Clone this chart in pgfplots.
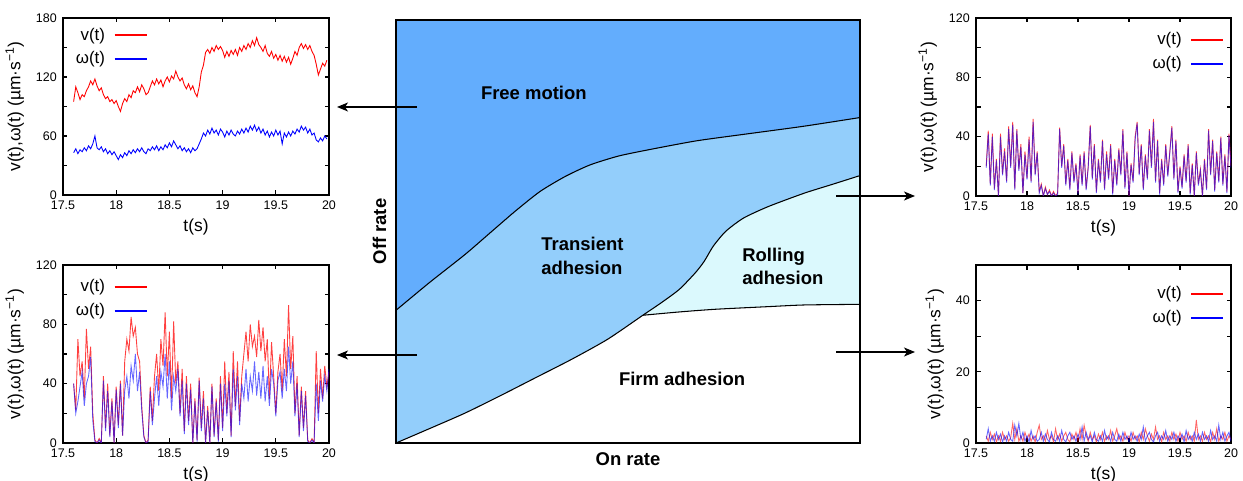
\documentclass[border=0pt]{standalone}
\usepackage{fontspec}
\setmainfont{Liberation Sans}
\usepackage{pgfplots}
\pgfplotsset{compat=1.18}
\usepackage{pgfplotstable}
\usetikzlibrary{arrows.meta}

\definecolor{freeblue}{RGB}{99,173,253}
\definecolor{transblue}{RGB}{147,206,251}
\definecolor{rollblue}{RGB}{219,249,253}

\pgfplotstableread[row sep=\\]{t v w\\
17.60 95 43\\ 17.62 110 47\\ 17.64 104 42\\ 17.66 97 46\\ 17.68 102 44\\ 17.70 100 48\\ 17.72 106 45\\ 17.74 110 50\\ 17.76 116 47\\ 17.78 112 52\\
17.80 118 60\\ 17.82 111 48\\ 17.84 106 46\\ 17.86 109 49\\ 17.88 102 44\\ 17.90 98 47\\ 17.92 100 42\\ 17.94 95 45\\ 17.96 97 41\\ 17.98 93 44\\
18.00 96 40\\ 18.02 90 36\\ 18.04 85 41\\ 18.06 93 38\\ 18.08 98 43\\ 18.10 95 40\\ 18.12 102 45\\ 18.14 99 42\\ 18.16 106 46\\ 18.18 104 43\\
18.20 110 47\\ 18.22 105 44\\ 18.24 112 48\\ 18.26 108 44\\ 18.28 102 42\\ 18.30 104 47\\ 18.32 110 45\\ 18.34 116 49\\ 18.36 112 46\\ 18.38 118 50\\
18.40 113 45\\ 18.42 117 49\\ 18.44 110 46\\ 18.46 116 51\\ 18.48 120 48\\ 18.50 115 53\\ 18.52 121 49\\ 18.54 118 55\\ 18.56 126 51\\ 18.58 120 47\\
18.60 116 50\\ 18.62 119 45\\ 18.64 112 48\\ 18.66 108 44\\ 18.68 113 47\\ 18.70 107 43\\ 18.72 111 48\\ 18.74 104 45\\ 18.76 100 47\\ 18.78 110 52\\
18.80 125 57\\ 18.82 132 63\\ 18.84 145 60\\ 18.86 148 66\\ 18.88 144 62\\ 18.90 150 68\\ 18.92 146 63\\ 18.94 152 66\\ 18.96 148 61\\ 18.98 151 67\\
19.00 147 64\\ 19.02 140 59\\ 19.04 146 65\\ 19.06 141 61\\ 19.08 147 66\\ 19.10 143 62\\ 19.12 148 60\\ 19.14 142 65\\ 19.16 150 62\\ 19.18 146 67\\
19.20 152 63\\ 19.22 148 68\\ 19.24 154 64\\ 19.26 150 70\\ 19.28 157 66\\ 19.30 152 71\\ 19.32 160 65\\ 19.34 153 69\\ 19.36 150 63\\ 19.38 146 67\\
19.40 152 61\\ 19.42 144 65\\ 19.44 141 59\\ 19.46 146 64\\ 19.48 139 60\\ 19.50 143 66\\ 19.52 137 61\\ 19.54 142 65\\ 19.56 136 52\\ 19.58 141 63\\
19.60 135 59\\ 19.62 140 64\\ 19.64 133 60\\ 19.66 139 65\\ 19.68 146 62\\ 19.70 142 67\\ 19.72 150 64\\ 19.74 154 70\\ 19.76 149 66\\ 19.78 153 69\\
19.80 148 63\\ 19.82 152 67\\ 19.84 146 61\\ 19.86 142 63\\ 19.88 133 56\\ 19.90 122 54\\ 19.92 128 58\\ 19.94 134 55\\ 19.96 131 60\\ 19.98 137 57\\
}\freedata

\pgfplotstableread[row sep=\\]{t v w\\
17.60 40 40\\ 17.62 22 20\\ 17.64 70 28\\ 17.66 45 38\\ 17.68 55 48\\ 17.70 30 25\\ 17.72 77 40\\ 17.74 50 45\\ 17.76 65 58\\ 17.78 20 15\\
17.80 2 1\\ 17.82 0 0\\ 17.84 3 2\\ 17.86 0 0\\ 17.88 45 42\\ 17.90 10 8\\ 17.92 40 35\\ 17.94 5 4\\ 17.96 30 28\\ 17.98 0 0\\
18.00 38 36\\ 18.02 12 10\\ 18.04 42 40\\ 18.06 5 5\\ 18.08 55 35\\ 18.10 70 45\\ 18.12 62 30\\ 18.14 85 52\\ 18.16 72 42\\ 18.18 78 60\\
18.20 60 35\\ 18.22 55 48\\ 18.24 25 22\\ 18.26 5 4\\ 18.28 0 0\\ 18.30 2 1\\ 18.32 38 35\\ 18.34 15 12\\ 18.36 45 30\\ 18.38 60 45\\
18.40 35 25\\ 18.42 70 48\\ 18.44 52 38\\ 18.46 88 60\\ 18.48 45 30\\ 18.50 75 55\\ 18.52 30 22\\ 18.54 82 45\\ 18.56 40 35\\ 18.58 55 50\\
18.60 20 18\\ 18.62 50 42\\ 18.64 8 6\\ 18.66 45 40\\ 18.68 15 12\\ 18.70 40 36\\ 18.72 0 0\\ 18.74 30 28\\ 18.76 2 1\\ 18.78 44 42\\
18.80 10 8\\ 18.82 35 30\\ 18.84 0 0\\ 18.86 25 22\\ 18.88 0 0\\ 18.90 40 38\\ 18.92 5 4\\ 18.94 30 28\\ 18.96 2 1\\ 18.98 45 40\\
19.00 10 8\\ 19.02 55 40\\ 19.04 20 18\\ 19.06 48 42\\ 19.08 5 4\\ 19.10 62 50\\ 19.12 25 22\\ 19.14 55 45\\ 19.16 15 12\\ 19.18 45 40\\
19.20 60 30\\ 19.22 75 50\\ 19.24 55 28\\ 19.26 80 45\\ 19.28 65 35\\ 19.30 72 55\\ 19.32 58 32\\ 19.34 83 48\\ 19.36 62 30\\ 19.38 78 52\\
19.40 55 28\\ 19.42 70 45\\ 19.44 30 25\\ 19.46 68 50\\ 19.48 45 40\\ 19.50 20 18\\ 19.52 48 42\\ 19.54 60 48\\ 19.56 35 30\\ 19.58 70 50\\
19.60 45 35\\ 19.62 93 65\\ 19.64 50 40\\ 19.66 72 55\\ 19.68 20 18\\ 19.70 45 40\\ 19.72 5 4\\ 19.74 38 35\\ 19.76 10 8\\ 19.78 35 32\\
19.80 2 1\\ 19.82 0 0\\ 19.84 3 2\\ 19.86 0 0\\ 19.88 62 40\\ 19.90 20 15\\ 19.92 50 42\\ 19.94 30 28\\ 19.96 52 45\\ 19.98 38 35\\ 20.00 48 50\\
}\transdata

\pgfplotstableread[row sep=\\]{t v w\\
17.60 20 19\\ 17.62 44 42\\ 17.64 8 7\\ 17.66 42 40\\ 17.68 5 4\\ 17.70 25 24\\ 17.72 0 0\\ 17.74 42 40\\ 17.76 15 14\\ 17.78 32 30\\
17.80 10 9\\ 17.82 47 45\\ 17.84 20 19\\ 17.86 50 48\\ 17.88 5 4\\ 17.90 45 44\\ 17.92 18 17\\ 17.94 35 33\\ 17.96 2 2\\ 17.98 30 28\\
18.00 12 11\\ 18.02 40 38\\ 18.04 10 9\\ 18.06 52 50\\ 18.08 15 14\\ 18.10 30 29\\ 18.12 3 2\\ 18.14 8 7\\ 18.16 0 0\\ 18.18 6 5\\
18.20 1 1\\ 18.22 4 3\\ 18.24 0 0\\ 18.26 3 2\\ 18.28 0 0\\ 18.30 2 1\\ 18.32 46 45\\ 18.34 20 19\\ 18.36 35 34\\ 18.38 8 7\\
18.40 25 24\\ 18.42 5 4\\ 18.44 30 29\\ 18.46 10 9\\ 18.48 22 21\\ 18.50 2 1\\ 18.52 28 27\\ 18.54 8 7\\ 18.56 30 29\\ 18.58 5 4\\
18.60 20 19\\ 18.62 48 47\\ 18.64 12 11\\ 18.66 35 34\\ 18.68 3 2\\ 18.70 25 24\\ 18.72 10 9\\ 18.74 38 37\\ 18.76 5 4\\ 18.78 30 28\\
18.80 12 11\\ 18.82 35 34\\ 18.84 2 1\\ 18.86 25 24\\ 18.88 8 7\\ 18.90 32 31\\ 18.92 15 14\\ 18.94 45 44\\ 18.96 6 5\\ 18.98 30 29\\
19.00 0 0\\ 19.02 22 21\\ 19.04 10 9\\ 19.06 40 38\\ 19.08 50 49\\ 19.10 15 14\\ 19.12 35 34\\ 19.14 5 4\\ 19.16 28 27\\ 19.18 12 11\\
19.20 45 44\\ 19.22 20 19\\ 19.24 52 50\\ 19.26 10 9\\ 19.28 38 37\\ 19.30 2 1\\ 19.32 25 24\\ 19.34 8 7\\ 19.36 35 34\\ 19.38 14 13\\
19.40 30 29\\ 19.42 47 46\\ 19.44 12 11\\ 19.46 38 37\\ 19.48 3 2\\ 19.50 20 19\\ 19.52 6 5\\ 19.54 28 27\\ 19.56 10 9\\ 19.58 35 34\\
19.60 2 1\\ 19.62 22 21\\ 19.64 0 0\\ 19.66 30 29\\ 19.68 8 7\\ 19.70 18 17\\ 19.72 0 0\\ 19.74 25 24\\ 19.76 5 4\\ 19.78 45 44\\
19.80 15 14\\ 19.82 38 37\\ 19.84 4 3\\ 19.86 30 29\\ 19.88 10 9\\ 19.90 40 39\\ 19.92 8 7\\ 19.94 28 27\\ 19.96 3 2\\ 19.98 42 41\\ 20.00 20 19\\
}\rolldata

\pgfplotstableread[row sep=\\]{t v w\\
17.60 2 1\\ 17.62 0.5 4\\ 17.64 3 0.5\\ 17.66 1 2\\ 17.68 2.5 0.5\\ 17.70 0.3 3\\ 17.72 2 1\\ 17.74 0.5 2.5\\ 17.76 3 0.3\\ 17.78 1 2\\
17.80 2 0.5\\ 17.82 0.5 3\\ 17.84 1.5 1\\ 17.86 5.5 0.5\\ 17.88 1 5\\ 17.90 4 2\\ 17.92 0.5 5.5\\ 17.94 2 1\\ 17.96 0.5 3\\ 17.98 3 0.5\\
18.00 1 2\\ 18.02 2.5 0.3\\ 18.04 0.5 3.5\\ 18.06 2 1\\ 18.08 0.3 2\\ 18.10 3 0.5\\ 18.12 5 1\\ 18.14 1 3\\ 18.16 2 0.5\\ 18.18 0.5 2.5\\
18.20 3.5 1\\ 18.22 1 0.3\\ 18.24 2 3\\ 18.26 0.3 1\\ 18.28 4 0.5\\ 18.30 1 2\\ 18.32 2.5 0.5\\ 18.34 0.5 3.5\\ 18.36 2 1\\ 18.38 3 0.3\\
18.40 1 2\\ 18.42 0.3 3\\ 18.44 2.5 1\\ 18.46 1 2\\ 18.48 3 0.5\\ 18.50 0.5 2.5\\ 18.52 4 1\\ 18.54 1 4.5\\ 18.56 5 0.5\\ 18.58 2 3\\
18.60 0.5 1\\ 18.62 3 2\\ 18.64 1 0.3\\ 18.66 2 3\\ 18.68 0.3 1\\ 18.70 2.5 0.5\\ 18.72 1 2\\ 18.74 3 0.5\\ 18.76 0.5 3.5\\ 18.78 2 1\\
18.80 1 2\\ 18.82 3.5 0.5\\ 18.84 0.5 3\\ 18.86 2 1\\ 18.88 4 0.5\\ 18.90 1 2.5\\ 18.92 2 0.5\\ 18.94 0.5 3\\ 18.96 3 1\\ 18.98 1 2\\
19.00 2 0.3\\ 19.02 0.5 3\\ 19.04 3 1\\ 19.06 1 2\\ 19.08 2 0.5\\ 19.10 0.3 2.5\\ 19.12 3 1\\ 19.14 1 4.5\\ 19.16 4 0.5\\ 19.18 2 2\\
19.20 0.5 3\\ 19.22 2.5 1\\ 19.24 1 0.3\\ 19.26 4.5 2\\ 19.28 1 3\\ 19.30 2 0.5\\ 19.32 0.3 2\\ 19.34 3 1\\ 19.36 1 3.5\\ 19.38 2 0.5\\
19.40 0.5 2\\ 19.42 3 1\\ 19.44 1 3\\ 19.46 2.5 0.5\\ 19.48 0.5 2\\ 19.50 3 1\\ 19.52 1 2.5\\ 19.54 2 0.3\\ 19.56 0.5 3.5\\ 19.58 3 1\\
19.60 1 2\\ 19.62 2 0.5\\ 19.64 0.5 3\\ 19.66 6.5 1\\ 19.68 1 2.5\\ 19.70 2 0.5\\ 19.72 0.5 3\\ 19.74 3 1\\ 19.76 1 2\\ 19.78 2 0.5\\
19.80 0.3 3.5\\ 19.82 3 1\\ 19.84 1 2\\ 19.86 4 0.5\\ 19.88 0.5 5\\ 19.90 2 1\\ 19.92 1 3\\ 19.94 3 0.5\\ 19.96 0.5 2\\ 19.98 2 3\\ 20.00 1 0.5\\
}\firmdata

\pgfplotsset{
 ts/.style={scale only axis, width=5.32cm, xmin=17.5, xmax=20,
  xtick={17.5,18,18.5,19,19.5,20},
  tick align=inside, major tick length=0.09cm, minor tick length=0.09cm,
  axis line style={line width=0.8pt},
  every tick/.style={line width=0.6pt, black},
  /pgf/number format/assume math mode=true,
  tick label style={font=\fontsize{7.1}{8}\selectfont},
  label style={font=\fontsize{9.9}{11}\selectfont},
  xlabel={t(s)}, ylabel={v(t),ω(t) (µm·s\textsuperscript{−1})},
  xlabel style={yshift=2pt},
  legend plot pos=right, legend cell align=right,
  legend style={draw=none, fill=none, font=\fontsize{9.6}{11}\selectfont,
    inner sep=0pt, row sep=1pt, /tikz/column sep=0.1cm},
  legend image code/.code={\draw[#1, line width=1.2pt, opacity=1] (0cm,0cm) -- (0.64cm,0cm);},
 },
 vl/.style={red, line width=0.5pt},
 wl/.style={blue, line width=0.5pt},
}

\begin{document}
\begin{tikzpicture}
\path[use as bounding box] (0,0) rectangle (24.86cm,9.62cm);

% top left: free motion
\begin{axis}[ts, at={(1.26cm,5.72cm)}, height=3.54cm, ymin=0, ymax=180,
  ytick={0,60,120,180}, minor ytick={30,90,150},
  legend style={at={(0.034,0.966)}, anchor=north west}]
\addplot[vl] table[x=t,y=v]{\freedata}; \addlegendentry{v(t)}
\addplot[wl] table[x=t,y=w]{\freedata}; \addlegendentry{ω(t)}
\end{axis}

% bottom left: transient adhesion
\begin{axis}[ts, at={(1.26cm,0.76cm)}, height=3.56cm, ymin=0, ymax=120,
  ytick={0,40,80,120}, minor ytick={20,60,100},
  legend style={at={(0.034,0.94)}, anchor=north west}]
\addplot[vl, opacity=0.75] table[x=t,y=v]{\transdata}; \addlegendentry{v(t)}
\addplot[wl, opacity=0.6] table[x=t,y=w]{\transdata}; \addlegendentry{ω(t)}
\end{axis}

% top right: rolling adhesion
\begin{axis}[ts, width=5.1cm, at={(19.52cm,5.70cm)}, height=3.56cm, ymin=0, ymax=120,
  ytick={0,40,80,120}, minor ytick={20,60,100},
  legend style={at={(0.975,0.94)}, anchor=north east}]
\addplot[vl, opacity=0.75] table[x=t,y=v]{\rolldata}; \addlegendentry{v(t)}
\addplot[wl, opacity=0.6] table[x=t,y=w]{\rolldata}; \addlegendentry{ω(t)}
\end{axis}

% bottom right: firm adhesion
\begin{axis}[ts, width=5.1cm, at={(19.52cm,0.76cm)}, height=3.56cm, ymin=0, ymax=50,
  ytick={0,20,40}, minor ytick={10,30},
  legend style={at={(0.975,0.90)}, anchor=north east}]
\addplot[vl, opacity=0.6] table[x=t,y=v]{\firmdata}; \addlegendentry{v(t)}
\addplot[wl, opacity=0.6] table[x=t,y=w]{\firmdata}; \addlegendentry{ω(t)}
\end{axis}

% central phase diagram
\begin{axis}[scale only axis, at={(7.92cm,0.76cm)}, width=9.28cm, height=8.46cm,
  xmin=0, xmax=1, ymin=0, ymax=1, xtick=\empty, ytick=\empty,
  axis on top, axis line style={line width=0.8pt},
  axis background/.style={fill=freeblue},
  label style={font=\fontsize{10.5}{12}\selectfont\bfseries},
  xlabel={On rate}, ylabel={Off rate},
  xlabel style={yshift=-2pt}, ylabel style={yshift=2pt}]
\addplot[fill=transblue, draw=none] coordinates {
 (0,0.3137)(0.0716,0.3788)(0.1486,0.4455)(0.2025,0.4965)(0.2564,0.5475)(0.3103,0.5945)
 (0.3642,0.6298)(0.4180,0.6573)(0.4796,0.6784)(0.5485,0.6941)(0.6486,0.7145)(0.7640,0.7318)
 (0.8799,0.7490)(1,0.7694)(1,0.6322)(0.9415,0.6118)(0.8799,0.5906)(0.8029,0.5592)(0.7490,0.5318)
 (0.7106,0.5004)(0.6836,0.4651)(0.6644,0.4298)(0.6451,0.4024)(0.6105,0.3631)(0.5720,0.3318)
 (0.5320,0.3020)(0.4565,0.2455)(0.3795,0.1984)(0.3026,0.1553)(0.2256,0.1122)(0.1486,0.0706)
 (0.0716,0.0337)(0,0)} -- cycle;
\addplot[fill=rollblue, draw=none] coordinates {
 (0.5320,0.3020)(0.5720,0.3318)(0.6105,0.3631)(0.6451,0.4024)(0.6644,0.4298)(0.6836,0.4651)
 (0.7106,0.5004)(0.7490,0.5318)(0.8029,0.5592)(0.8799,0.5906)(0.9415,0.6118)(1,0.6322)
 (1,0.3278)(0.8799,0.3263)(0.8029,0.3224)(0.6875,0.3161)(0.6105,0.3098)} -- cycle;
\addplot[fill=white, draw=none] coordinates {
 (0,0)(0.0716,0.0337)(0.1486,0.0706)(0.2256,0.1122)(0.3026,0.1553)(0.3795,0.1984)(0.4565,0.2455)
 (0.5320,0.3020)(0.6105,0.3098)(0.6875,0.3161)(0.8029,0.3224)(0.8799,0.3263)(1,0.3278)(1,0)} -- cycle;
\addplot[black, line width=0.6pt, smooth, tension=0.4] coordinates {
 (0,0.3137)(0.0716,0.3788)(0.1486,0.4455)(0.2025,0.4965)(0.2564,0.5475)(0.3103,0.5945)
 (0.3642,0.6298)(0.4180,0.6573)(0.4796,0.6784)(0.5485,0.6941)(0.6486,0.7145)(0.7640,0.7318)
 (0.8799,0.7490)(1,0.7694)};
\addplot[black, line width=0.6pt, smooth, tension=0.4] coordinates {
 (0,0)(0.0716,0.0337)(0.1486,0.0706)(0.2256,0.1122)(0.3026,0.1553)(0.3795,0.1984)(0.4565,0.2455)
 (0.5320,0.3020)(0.5720,0.3318)(0.6105,0.3631)(0.6451,0.4024)(0.6644,0.4298)(0.6836,0.4651)
 (0.7106,0.5004)(0.7490,0.5318)(0.8029,0.5592)(0.8799,0.5906)(0.9415,0.6118)(1,0.6322)};
\addplot[black, line width=0.6pt, smooth, tension=0.4] coordinates {
 (0.5320,0.3020)(0.6105,0.3098)(0.6875,0.3161)(0.8029,0.3224)(0.8799,0.3263)(1,0.3278)};
\node[font=\fontsize{10.5}{12}\selectfont\bfseries] at (axis cs:0.297,0.8275) {Free motion};
\node[font=\fontsize{10.5}{13.6}\selectfont\bfseries, align=left, anchor=west] at (axis cs:0.300,0.443) {Transient\\adhesion};
\node[font=\fontsize{10.5}{13.2}\selectfont\bfseries, align=left, anchor=west] at (axis cs:0.733,0.418) {Rolling\\adhesion};
\node[font=\fontsize{10.5}{12}\selectfont\bfseries] at (axis cs:0.6166,0.1514) {Firm adhesion};
\end{axis}

% arrows
\begin{scope}[line width=0.7pt, -{Stealth[length=0.22cm, width=0.18cm, inset=0.06cm]}]
\draw (8.34cm,7.48cm) -- (6.74cm,7.48cm);
\draw (8.34cm,2.52cm) -- (6.74cm,2.52cm);
\draw (16.72cm,5.70cm) -- (18.30cm,5.70cm);
\draw (16.72cm,2.58cm) -- (18.30cm,2.58cm);
\end{scope}
\end{tikzpicture}
\end{document}
